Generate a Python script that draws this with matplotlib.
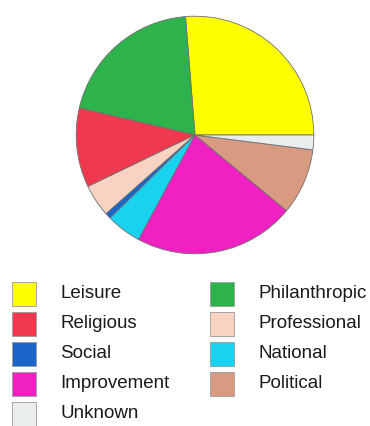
import matplotlib
matplotlib.use("Agg")
import matplotlib.pyplot as plt
from matplotlib.patches import Rectangle

# Data (percent shares, counter-clockwise from 3 o'clock)
pie_labels = ["Leisure", "Philanthropic", "Religious", "Professional", "Social",
              "National", "Improvement", "Political", "Unknown"]
pie_values = [26.3, 20.1, 10.8, 4.4, 0.8, 4.8, 21.9, 9.0, 2.0]
pie_colors = ["#FFFF00", "#2EB24C", "#F0384F", "#FAD2C2", "#1A66C8",
              "#18D2F0", "#F020C2", "#D89A80", "#E9EDEE"]

legend_order = ["Leisure", "Religious", "Social", "Improvement", "Unknown",
                "Philanthropic", "Professional", "National", "Political"]

W, H = 370, 426
fig = plt.figure(figsize=(W / 100, H / 100), dpi=100)
fig.patch.set_facecolor("white")

cx, cy, r = 195, 135, 120
ax = fig.add_axes([(cx - r) / W, (H - cy - r) / H, 2 * r / W, 2 * r / H])
ax.pie(pie_values, colors=pie_colors, startangle=0, counterclock=True,
       wedgeprops=dict(edgecolor="#707070", linewidth=0.6))
ax.set_xlim(-1.01, 1.01)
ax.set_ylim(-1.01, 1.01)
ax.set_aspect("equal")
ax.axis("off")

color_map = dict(zip(pie_labels, pie_colors))
col_x = [12, 210]
text_dx = 48
row_y0, row_dy = 294, 30
pw, ph = 24, 24
for i, lab in enumerate(legend_order):
    col, row = divmod(i, 5)
    x = col_x[col]
    yc = row_y0 + row * row_dy
    fig.patches.append(Rectangle((x / W, (H - yc - ph / 2) / H), pw / W, ph / H,
                                 transform=fig.transFigure, facecolor=color_map[lab],
                                 edgecolor="#9a9a9a", linewidth=0.6))
    fig.text((x + text_dx) / W, (H - yc) / H, lab, fontsize=13.5,
             family="Liberation Sans", color="#1a1a1a", va="center", ha="left")

fig.savefig("out.png", dpi=100, facecolor="white")
